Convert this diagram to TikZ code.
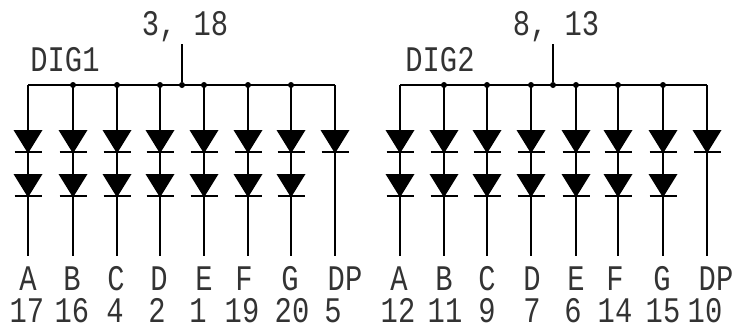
\documentclass[tikz,border=0pt]{standalone}
\usepackage{fontspec}
\usepackage{tikz}
\newfontfamily\schemfont[FakeStretch=0.8]{Liberation Mono}
\begin{document}
\begin{tikzpicture}[x=1pt, y=-1pt,
		dot/.style = {circle, fill, inner sep=0pt, minimum size=6pt},
		wire/.style = {black, line width=1.3pt},
		lbl/.style = {anchor=base, inner sep=0pt, font=\schemfont\fontsize{36}{36}\selectfont, text=black!80!white},
		diode/.pic = {
			\fill[black] (-14.5,0) -- (14.5,0) -- (1.5,21) -- (-1.5,21) -- cycle;
			\draw[wire] (-13.5,22) -- (13.5,22);
		}]
		\useasboundingbox (0,0) rectangle (736,330);
		%%%%%%%%%%%%%%%%%%% Common lines
		\coordinate (busL) at (28,85);
		\coordinate (busLend) at (335,85);
		\coordinate (busR) at (400,85);
		\coordinate (busRend) at (707,85);
		\coordinate (stubL) at (182,44);
		\coordinate (stubR) at (553,44);
		\node[dot] (tapL) at (182,85) {};
		\node[dot] (tapR) at (553,85) {};
		\draw[wire] (busL) -- (busLend);
		\draw[wire] (busR) -- (busRend);
		\draw[wire] (stubL) -- (tapL);
		\draw[wire] (stubR) -- (tapR);
		\node[lbl] (comL) at (185,35) {3, 18};
		\node[lbl] (comR) at (556,35) {8, 13};
		\node[lbl] (digL) at (65,71) {DIG1};
		\node[lbl] (digR) at (440,71) {DIG2};
		%%%%%%%%%%%%%%%%%%% Columns
		\foreach \x/\la/\lb/\seg/\pin [count=\i] in {28/28/27/A/17, 73/72/72/B/16, 117/116/115/C/4, 160/159/157/D/2, 204/204/198/E/1, 248/244/242/F/19, 291/290/292/G/20, 335/345/333/DP/5,
				400/399/398/A/12, 444/444/445/B/11, 487/487/487/C/9, 531/532/532/D/7, 576/576/573/E/6, 618/615/615/F/14, 663/662/663/G/15, 707/716/705/DP/10} {
			\coordinate (top\i) at (\x,85);
			\coordinate (end\i) at (\x,256);
			\draw[wire] (top\i) -- (end\i);
			\pic at (\x,130) {diode};
			\node[lbl] (seg\i) at (\la,290) {\seg};
			\node[lbl] (pin\i) at (\lb,322) {\pin};
		}
		%%%%%%%%%%%%%%%%%%% Second diode and junction, not on DP
		\foreach \x in {28,73,117,160,204,248,291,400,444,487,531,576,618,663} {
			\pic at (\x,174) {diode};
		}
		\foreach \i in {2,...,7,10,11,12,13,14,15} {
			\node[dot] (tap\i) at (top\i) {};
		}
\end{tikzpicture}
\end{document}
